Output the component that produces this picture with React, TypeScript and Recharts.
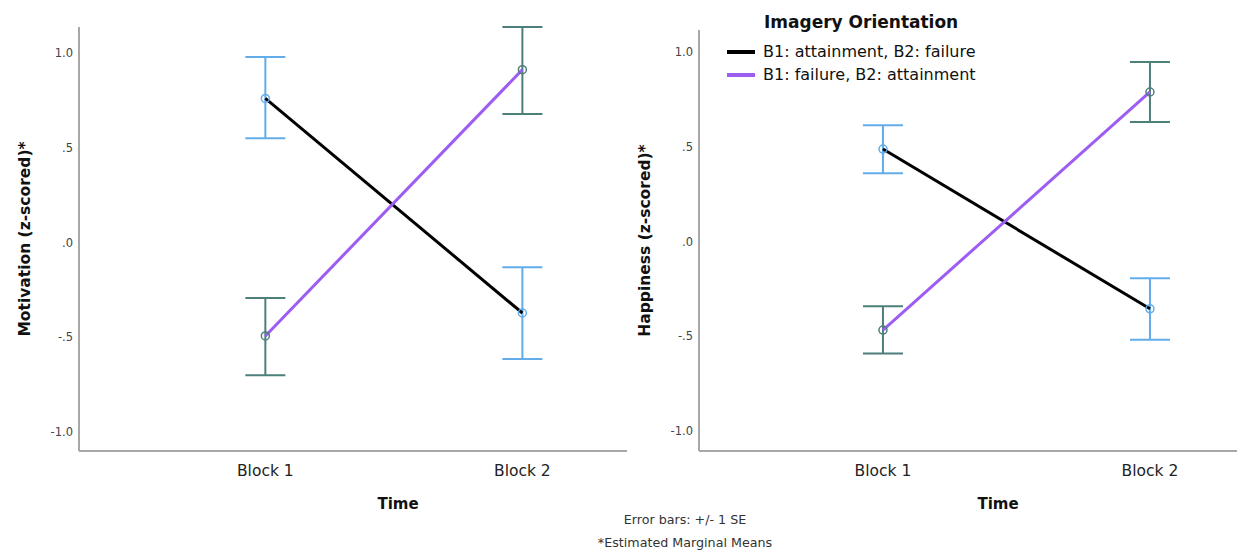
import React from 'react';
import { LineChart, Line, XAxis, YAxis, ErrorBar, Legend, Label } from 'recharts';

const blockLabels = ['Block 1', 'Block 2'];
const blockPositions = [1, 2];
const seriesNames = ['B1: attainment, B2: failure', 'B1: failure, B2: attainment'];
const yTicks = [-1, -0.5, 0, 0.5, 1];
const yTickLabels = ['-1.0', '-.5', '.0', '.5', '1.0'];

// Motivation (z-scored)
const motivationAttainFirst = [0.76, -0.372];
const motivationAttainFirstLow = [0.55, -0.614];
const motivationAttainFirstHigh = [0.979, -0.13];
const motivationFailFirst = [-0.493, 0.912];
const motivationFailFirstLow = [-0.7, 0.678];
const motivationFailFirstHigh = [-0.293, 1.137];

// Happiness (z-scored)
const happinessAttainFirst = [0.488, -0.355];
const happinessAttainFirstLow = [0.36, -0.518];
const happinessAttainFirstHigh = [0.613, -0.194];
const happinessFailFirst = [-0.467, 0.789];
const happinessFailFirstLow = [-0.59, 0.63];
const happinessFailFirstHigh = [-0.342, 0.947];

const lineColors = ['#000000', '#9d5cf2'];
const errColors = ['#62acea', '#4d7f7a'];
const FONT = '"DejaVu Sans", Verdana, sans-serif';

function buildRows(a: number[], aLow: number[], aHigh: number[], b: number[], bLow: number[], bHigh: number[]) {
  return blockPositions.map((x, i) => ({
    x,
    a: a[i],
    aErr: [a[i] - aLow[i], aHigh[i] - a[i]],
    b: b[i],
    bErr: [b[i] - bLow[i], bHigh[i] - b[i]],
  }));
}

const motivationRows = buildRows(
  motivationAttainFirst, motivationAttainFirstLow, motivationAttainFirstHigh,
  motivationFailFirst, motivationFailFirstLow, motivationFailFirstHigh
);
const happinessRows = buildRows(
  happinessAttainFirst, happinessAttainFirstLow, happinessAttainFirstHigh,
  happinessFailFirst, happinessFailFirstLow, happinessFailFirstHigh
);

const LegendContent = (props: any) => {
  const payload = props.payload || [];
  return (
    <div style={{ fontFamily: FONT, color: '#111' }}>
      <div style={{ fontWeight: 'bold', fontSize: 17, marginLeft: 37, lineHeight: '22px', whiteSpace: 'nowrap' }}>
        Imagery Orientation
      </div>
      <div style={{ marginTop: 7 }}>
        {payload.map((p: any, i: number) => (
          <div key={i} style={{ display: 'flex', alignItems: 'center', height: 23, whiteSpace: 'nowrap' }}>
            <span style={{ display: 'inline-block', width: 28, height: 4, background: p.color, marginRight: 8 }} />
            <span style={{ fontSize: 16 }}>{p.value}</span>
          </div>
        ))}
      </div>
    </div>
  );
};

type PanelProps = {
  rows: any[];
  yLabel: string;
  width: number;
  marginTop: number;
  marginRight: number;
  yAxisWidth: number;
  xDomain: [number, number];
  yDomain: [number, number];
  yLabelX: number;
  timeDx: number;
  showLegend?: boolean;
  legendLeft?: number;
};

function Panel(p: PanelProps) {
  return (
    <LineChart
      width={p.width}
      height={552}
      data={p.rows}
      margin={{ top: p.marginTop, right: p.marginRight, bottom: 0, left: 0 }}
    >
      <XAxis
        type="number"
        dataKey="x"
        domain={p.xDomain}
        ticks={blockPositions}
        tickFormatter={(v: number) => blockLabels[blockPositions.indexOf(v)]}
        height={101}
        tickLine={false}
        tickSize={0}
        tickMargin={14}
        axisLine={{ stroke: '#a8a8a8', strokeWidth: 2 }}
        tick={{ fontFamily: FONT, fontSize: 15.5, fill: '#222' }}
        interval={0}
      >
        <Label
          content={(lp: any) => {
            const vb = lp.viewBox || { x: 0, y: 0 };
            return (
              <text x={vb.x + p.timeDx} y={vb.y + 58} textAnchor="middle" fontFamily={FONT} fontSize={15} fontWeight="bold" fill="#111">
                Time
              </text>
            );
          }}
        />
      </XAxis>
      <YAxis
        type="number"
        domain={p.yDomain}
        ticks={yTicks}
        tickFormatter={(v: number) => yTickLabels[yTicks.indexOf(v)]}
        width={p.yAxisWidth}
        tickLine={false}
        tickSize={0}
        tickMargin={6}
        axisLine={{ stroke: '#a8a8a8', strokeWidth: 2 }}
        tick={{ fontFamily: FONT, fontSize: 11.5, fill: '#444' }}
        interval={0}
      >
        <Label
          content={(lp: any) => {
            const vb = lp.viewBox || { x: 0, y: 0, height: 0 };
            const cx = vb.x + p.yLabelX;
            const cy = vb.y + vb.height / 2;
            return (
              <text x={cx} y={cy} transform={`rotate(-90 ${cx} ${cy})`} textAnchor="middle" dominantBaseline="central" fontFamily={FONT} fontSize={15.5} fontWeight="bold" fill="#111">
                {p.yLabel}
              </text>
            );
          }}
        />
      </YAxis>
      {p.showLegend && (
        <Legend
          layout="horizontal"
          verticalAlign="middle"
          align="center"
          content={LegendContent}
          wrapperStyle={{ top: 11, left: p.legendLeft, width: 300, bottom: 'auto', right: 'auto' }}
        />
      )}
      <Line
        type="linear"
        dataKey="a"
        name={seriesNames[0]}
        stroke={lineColors[0]}
        strokeWidth={3}
        dot={{ r: 4, stroke: errColors[0], strokeWidth: 1.5, fill: 'none' }}
        activeDot={false}
        isAnimationActive={false}
      >
        <ErrorBar dataKey="aErr" direction="y" width={20} stroke={errColors[0]} strokeWidth={2} isAnimationActive={false} />
      </Line>
      <Line
        type="linear"
        dataKey="b"
        name={seriesNames[1]}
        stroke={lineColors[1]}
        strokeWidth={3}
        dot={{ r: 4, stroke: errColors[1], strokeWidth: 1.5, fill: 'none' }}
        activeDot={false}
        isAnimationActive={false}
      >
        <ErrorBar dataKey="bErr" direction="y" width={20} stroke={errColors[1]} strokeWidth={2} isAnimationActive={false} />
      </Line>
    </LineChart>
  );
}

export default function App() {
  return (
    <div style={{ position: 'absolute', left: 0, top: 0, width: 1237, height: 552, background: '#fff', overflow: 'hidden' }}>
      <div style={{ position: 'absolute', left: 0, top: 0 }}>
        <Panel
          rows={motivationRows}
          yLabel="Motivation (z-scored)*"
          width={640}
          marginTop={27}
          marginRight={13}
          yAxisWidth={79}
          xDomain={[0.275, 2.407]}
          yDomain={[-1.1, 1.11]}
          yLabelX={25}
          timeDx={319}
        />
      </div>
      <div style={{ position: 'absolute', left: 580, top: 0 }}>
        <Panel
          rows={happinessRows}
          yLabel="Happiness (z-scored)*"
          width={657}
          marginTop={30}
          marginRight={0}
          yAxisWidth={119}
          xDomain={[0.311, 2.326]}
          yDomain={[-1.105, 1.116]}
          yLabelX={65}
          timeDx={299}
          showLegend
          legendLeft={147}
        />
      </div>
      <div style={{ position: 'absolute', left: 535, width: 300, top: 511, textAlign: 'center', fontFamily: FONT, fontSize: 12.7, color: '#333', lineHeight: '18px' }}>
        Error bars: +/- 1 SE
      </div>
      <div style={{ position: 'absolute', left: 535, width: 300, top: 534, textAlign: 'center', fontFamily: FONT, fontSize: 12.7, color: '#333', lineHeight: '18px' }}>
        *Estimated Marginal Means
      </div>
    </div>
  );
}
